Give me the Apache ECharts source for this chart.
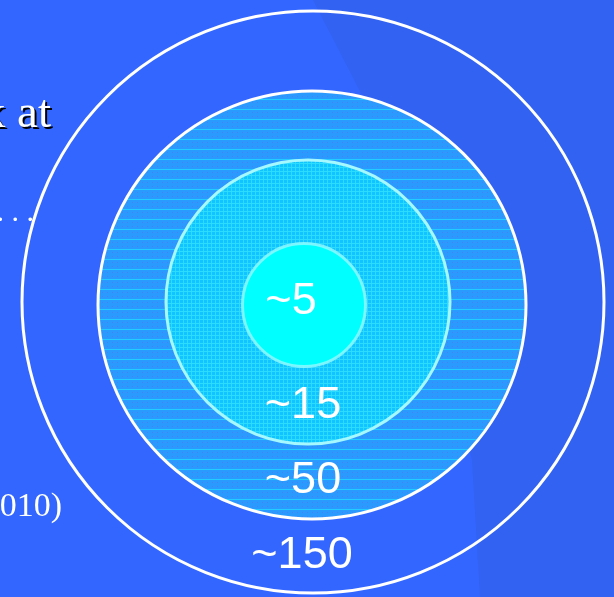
<!DOCTYPE html>
<html>
<head>
<meta charset="utf-8">
<script src="https://cdn.jsdelivr.net/npm/echarts@6/dist/echarts.min.js"></script>
<style>
html,body{margin:0;padding:0;background:#3366FF;}
#chart{width:614px;height:597px;}
</style>
</head>
<body>
<div id="chart"></div>
<script>
// ---- data ----
const labels = ['~5', '~15', '~50', '~150'];
const groupSizes = [5, 15, 50, 150];

// ---- texture patterns ----
function makePattern(w, h, draw) {
  const c = document.createElement('canvas');
  c.width = w; c.height = h;
  draw(c.getContext('2d'), w, h);
  return { image: c, repeat: 'repeat' };
}
const pattern15 = makePattern(4, 4, (g, w, h) => {
  g.fillStyle = '#10C4FF'; g.fillRect(0, 0, w, h);
  g.fillStyle = '#2CDCFF'; g.fillRect(0, 3, w, 1); g.fillRect(3, 0, 1, h);
});
const pattern50 = makePattern(5, 10, (g, w, h) => {
  g.fillStyle = '#2A9AFF'; g.fillRect(0, 0, w, h);
  g.fillStyle = '#4A80F2'; g.fillRect(2, 2, 1, 1); g.fillRect(2, 6, 1, 1);
  g.fillStyle = '#22CCFF'; g.fillRect(0, 9, w, 1);
});

// ---- layout / styles (inner to outer) ----
const ringStyle = [
  { center: [304, 305], r: 61.5, fill: '#00FFFF', border: 'rgba(150,250,255,0.8)', bw: 3, dx: -13, dy: -3 },
  { center: [308, 302], r: 142, fill: pattern15, border: '#A6F8FF', bw: 3, dx: -5, dy: 104 },
  { center: [312, 305], r: 214, fill: pattern50, border: '#FFFFFF', bw: 3, dx: -9, dy: 176 },
  { center: [313, 302], r: 291, fill: 'rgba(0,0,0,0)', border: '#FFFFFF', bw: 3, dx: -11, dy: 254 }
];

const series = [];
for (let i = labels.length - 1; i >= 0; i--) {
  const s = ringStyle[i];
  series.push({
    type: 'pie',
    center: s.center,
    radius: [0, s.r],
    startAngle: 90,
    silent: true,
    animation: false,
    emphasis: { disabled: true },
    labelLine: { show: false },
    label: {
      show: true,
      position: 'center',
      formatter: '{b}',
      color: '#FFFFFF',
      fontSize: 45,
      fontFamily: 'Liberation Sans, Arial, sans-serif',
      fontWeight: 'normal'
    },
    labelLayout: { dx: s.dx, dy: s.dy },
    itemStyle: { color: s.fill, borderColor: s.border, borderWidth: s.bw },
    data: [{ name: labels[i], value: groupSizes[i] }]
  });
}

const serifFont = '"Liberation Serif", "Times New Roman", serif';
function slideText(text, x, y, size, shadow) {
  const els = [];
  if (shadow) {
    els.push({
      type: 'text', z: 9, silent: true,
      style: { text: text, x: x + 2, y: y + 2, textAlign: 'right', verticalAlign: 'bottom',
               font: size + 'px ' + serifFont, fill: '#000000' }
    });
  }
  els.push({
    type: 'text', z: 10, silent: true,
    style: { text: text, x: x, y: y, textAlign: 'right', verticalAlign: 'bottom',
             font: size + 'px ' + serifFont, fill: '#FFFFFF' }
  });
  return els;
}

const chart = echarts.init(document.getElementById('chart'), null, { renderer: 'canvas' });
chart.setOption({
  backgroundColor: '#3366FF',
  animation: false,
  graphic: [
    {
      type: 'polygon', z: -10, silent: true,
      shape: { points: [[313, 0], [614, 0], [614, 597], [480, 597], [472, 460], [430, 300], [380, 130]] },
      style: { fill: '#3162F2' }
    }
  ].concat(
    slideText('k at', 51, 138, 47, true),
    slideText('. . .', 34, 228, 30, false),
    slideText('(2010)', 62, 524, 34, false)
  ),
  series: series
});
</script>
</body>
</html>
